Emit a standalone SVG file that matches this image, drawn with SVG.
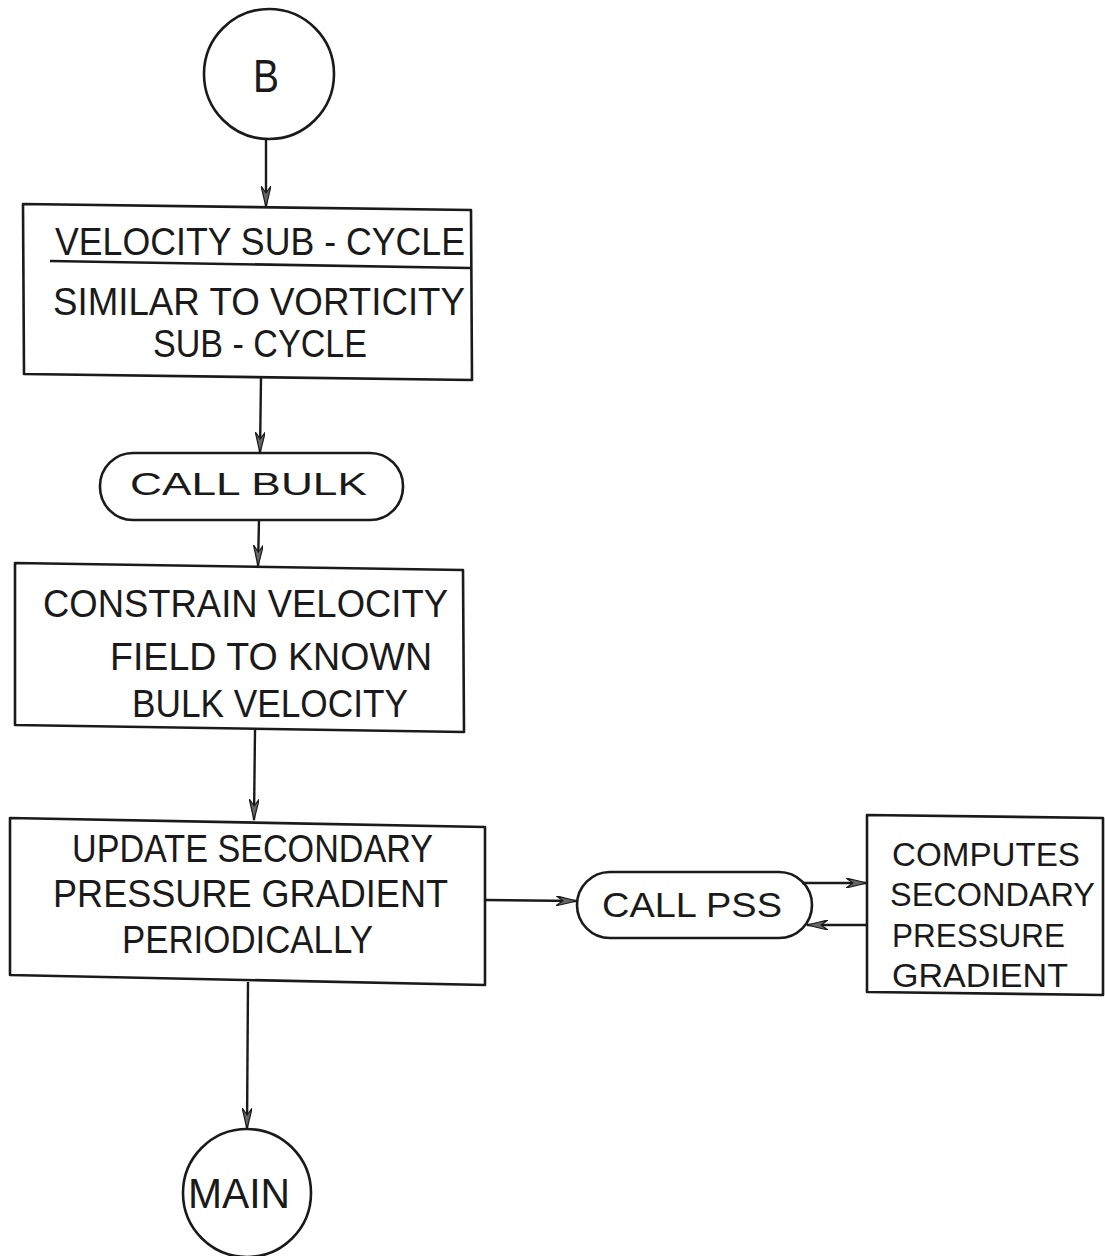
<svg xmlns="http://www.w3.org/2000/svg" width="1105" height="1256" viewBox="0 0 1105 1256">
<defs>
<style>
.shape{fill:none;stroke:#1a1a1a;stroke-width:2.6;stroke-linejoin:round}
.conn{fill:none;stroke:#1a1a1a;stroke-width:2.4}
.t{font-family:"Liberation Sans",Arial,sans-serif;fill:#1a1a1a}
.big{font-size:38px}
.sm{font-size:34px}
</style>
<marker id="ah" viewBox="0 0 22 10" refX="21" refY="5" markerWidth="22" markerHeight="10" markerUnits="userSpaceOnUse" orient="auto">
<path d="M0,0 L21,5 L0,10 L7,5 z" fill="#666" stroke="#1a1a1a" stroke-width="1.2" stroke-linejoin="round"/>
</marker>
</defs>
<rect width="1105" height="1256" fill="#fff"/>

<g id="connectors">
<line class="conn" x1="266" y1="139" x2="266" y2="207" marker-end="url(#ah)"/>
<line class="conn" x1="261" y1="378" x2="260" y2="453" marker-end="url(#ah)"/>
<line class="conn" x1="259" y1="520" x2="258" y2="566" marker-end="url(#ah)"/>
<line class="conn" x1="255" y1="730" x2="254" y2="820" marker-end="url(#ah)"/>
<line class="conn" x1="485" y1="900" x2="577" y2="901" marker-end="url(#ah)"/>
<line class="conn" x1="802" y1="883" x2="867" y2="883" marker-end="url(#ah)"/>
<line class="conn" x1="867" y1="925" x2="807" y2="925" marker-end="url(#ah)"/>
<line class="conn" x1="248" y1="982" x2="247" y2="1129" marker-end="url(#ah)"/>
</g>

<g id="node-b">
<circle class="shape" cx="269" cy="74" r="65"/>
<text class="t" x="253" y="92" font-size="47" textLength="26" lengthAdjust="spacingAndGlyphs">B</text>
</g>

<g id="node-velocity">
<path class="shape" d="M23,204 L471,210 L472,380 L24,374 Z"/>
<text class="t big" x="55" y="255" textLength="410" lengthAdjust="spacingAndGlyphs">VELOCITY SUB - CYCLE</text>
<line class="shape" x1="50" y1="261" x2="470" y2="268"/>
<text class="t big" x="53" y="315" textLength="412" lengthAdjust="spacingAndGlyphs">SIMILAR TO VORTICITY</text>
<text class="t big" x="153" y="357" textLength="214" lengthAdjust="spacingAndGlyphs">SUB - CYCLE</text>
</g>

<g id="node-callbulk">
<rect class="shape" x="100" y="453" width="303" height="67" rx="33" ry="33"/>
<text class="t" x="130" y="495" font-size="32" textLength="237" lengthAdjust="spacingAndGlyphs">CALL  BULK</text>
</g>

<g id="node-constrain">
<path class="shape" d="M15,563 L463,570 L464,732 L15,725 Z"/>
<text class="t big" x="43" y="617" textLength="405" lengthAdjust="spacingAndGlyphs">CONSTRAIN  VELOCITY</text>
<text class="t big" x="110" y="670" textLength="322" lengthAdjust="spacingAndGlyphs">FIELD TO KNOWN</text>
<text class="t big" x="132" y="717" textLength="276" lengthAdjust="spacingAndGlyphs">BULK VELOCITY</text>
</g>

<g id="node-update">
<path class="shape" d="M10,818 L485,827 L485,985 L10,975 Z"/>
<text class="t big" x="72" y="862" textLength="361" lengthAdjust="spacingAndGlyphs">UPDATE SECONDARY</text>
<text class="t big" x="53" y="907" textLength="395" lengthAdjust="spacingAndGlyphs">PRESSURE GRADIENT</text>
<text class="t big" x="122" y="953" textLength="251" lengthAdjust="spacingAndGlyphs">PERIODICALLY</text>
</g>

<g id="node-callpss">
<rect class="shape" x="577" y="872" width="235" height="66" rx="33" ry="33"/>
<text class="t" x="602" y="917" font-size="35" textLength="180" lengthAdjust="spacingAndGlyphs">CALL  PSS</text>
</g>

<g id="node-computes">
<path class="shape" d="M867,815 L1103,818 L1103,995 L867,992 Z"/>
<text class="t sm" x="892" y="866" textLength="188" lengthAdjust="spacingAndGlyphs">COMPUTES</text>
<text class="t sm" x="890" y="906" textLength="205" lengthAdjust="spacingAndGlyphs">SECONDARY</text>
<text class="t sm" x="892" y="947" textLength="173" lengthAdjust="spacingAndGlyphs">PRESSURE</text>
<text class="t sm" x="892" y="987" textLength="176" lengthAdjust="spacingAndGlyphs">GRADIENT</text>
</g>

<g id="node-main">
<circle class="shape" cx="247" cy="1193" r="64"/>
<text class="t" x="188" y="1208" font-size="43" textLength="102" lengthAdjust="spacingAndGlyphs">MAIN</text>
</g>
</svg>
